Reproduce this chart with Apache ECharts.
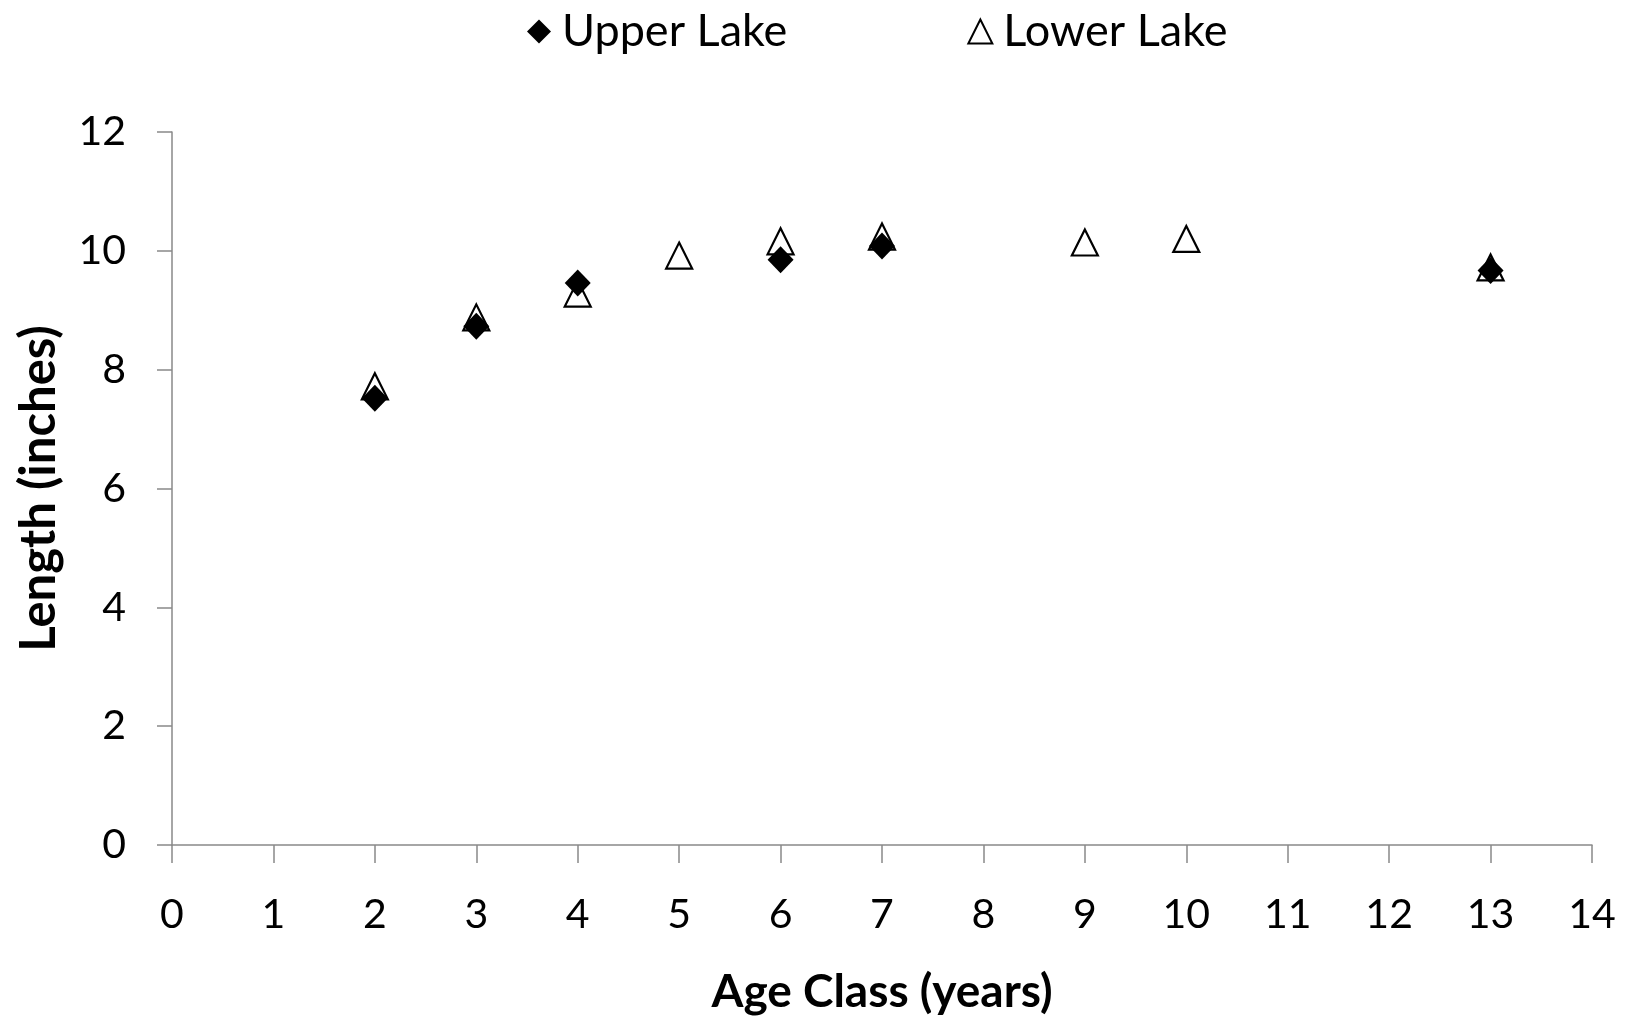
<!DOCTYPE html>
<html>
<head>
<meta charset="utf-8">
<script src="https://cdn.jsdelivr.net/npm/echarts@6/dist/echarts.min.js"></script>
<style>
html,body{margin:0;padding:0;background:#fff;}
#chart{width:1634px;height:1021px;}
</style>
</head>
<body>
<div id="chart"></div>
<script>
// Data
const upperAges = [2, 3, 4, 6, 7, 13];
const upperLengths = [7.52, 8.73, 9.46, 9.85, 10.08, 9.67];
const lowerAges = [2, 3, 4, 5, 6, 7, 9, 10, 13];
const lowerLengths = [7.72, 8.88, 9.28, 9.92, 10.16, 10.24, 10.14, 10.20, 9.72];
const seriesNames = ['Upper Lake', 'Lower Lake'];
const xTitle = 'Age Class (years)';
const yTitle = 'Length (inches)';

const FONT = 'Lato';
const axisGray = '#898989';

const chart = echarts.init(document.getElementById('chart'), null, {renderer: 'canvas'});
chart.setOption({
  backgroundColor: '#ffffff',
  animation: false,
  textStyle: {fontFamily: FONT, color: '#000'},
  legend: {
    data: seriesNames,
    top: 4,
    left: 522,
    itemGap: 180,
    itemWidth: 24,
    itemHeight: 24,
    textStyle: {fontFamily: FONT, fontSize: 45, color: '#000', padding: [0, 0, 0, 6]}
  },
  grid: {left: 172, right: 42, top: 132, bottom: 176, containLabel: false},
  xAxis: {
    type: 'value',
    min: 0, max: 14, interval: 1,
    name: xTitle,
    nameLocation: 'middle',
    nameGap: 124,
    nameTextStyle: {fontFamily: FONT, fontSize: 46, fontWeight: 'bold', color: '#000'},
    axisLine: {show: true, onZero: false, lineStyle: {color: axisGray, width: 1.5}},
    axisTick: {show: true, inside: false, length: 18, lineStyle: {color: axisGray, width: 1.5}},
    axisLabel: {fontFamily: FONT, fontSize: 41, color: '#000', margin: 49},
    splitLine: {show: false}
  },
  yAxis: {
    type: 'value',
    min: 0, max: 12, interval: 2,
    name: yTitle,
    nameLocation: 'middle',
    nameGap: 108,
    nameTextStyle: {fontFamily: FONT, fontSize: 49, fontWeight: 'bold', color: '#000'},
    axisLine: {show: true, onZero: false, lineStyle: {color: axisGray, width: 1.5}},
    axisTick: {show: true, inside: false, length: 15, lineStyle: {color: axisGray, width: 1.5}},
    axisLabel: {fontFamily: FONT, fontSize: 41, color: '#000', margin: 46},
    splitLine: {show: false}
  },
  series: [
    {
      name: 'Lower Lake',
      type: 'scatter',
      z: 2,
      symbol: 'triangle',
      symbolSize: [26, 26],
      itemStyle: {color: '#ffffff', borderColor: '#000000', borderWidth: 2.2, opacity: 1},
      data: lowerAges.map((a, i) => [a, lowerLengths[i]])
    },
    {
      name: 'Upper Lake',
      type: 'scatter',
      z: 3,
      symbol: 'diamond',
      symbolSize: [26, 27],
      itemStyle: {color: '#000000', opacity: 1},
      data: upperAges.map((a, i) => [a, upperLengths[i]])
    }
  ]
});
</script>
</body>
</html>
